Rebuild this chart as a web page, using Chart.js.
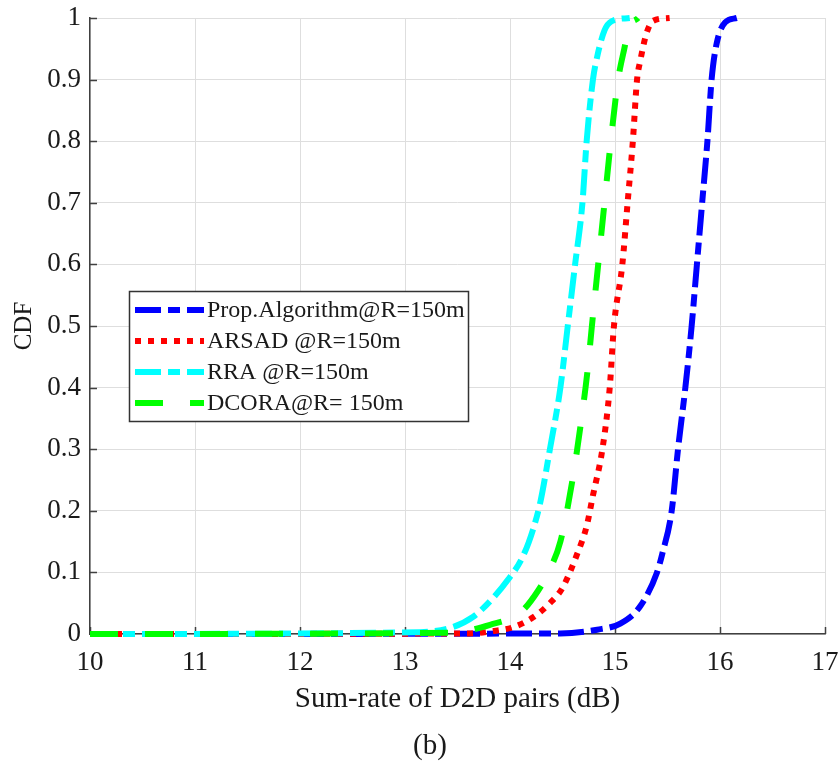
<!DOCTYPE html>
<html>
<head>
<meta charset="utf-8">
<script src="https://cdn.jsdelivr.net/npm/chart.js@4.4.1/dist/chart.umd.min.js"></script>
<style>
html,body{margin:0;padding:0;background:#fff;}
#wrap{width:840px;height:770px;position:relative;}
</style>
</head>
<body>
<div id="wrap"><canvas id="c" width="840" height="770"></canvas></div>
<script>
// ---- data ----
const seriesNames = ['Prop.Algorithm@R=150m', 'ARSAD @R=150m', 'RRA @R=150m', 'DCORA@R= 150m'];

const propX = [10, 14.48, 14.83, 15.05, 15.24, 15.40, 15.45, 15.54, 15.60, 15.67, 15.73, 15.78, 15.83, 15.88, 15.92, 15.97, 16.05, 16.16];
const propY = [0, 0.001, 0.007, 0.017, 0.045, 0.10, 0.13, 0.20, 0.30, 0.40, 0.50, 0.60, 0.70, 0.80, 0.90, 0.96, 0.993, 1.0];

const arsadX = [10, 13.62, 13.85, 14.03, 14.22, 14.38, 14.50, 14.64, 14.73, 14.79, 14.88, 14.95, 14.99, 15.07, 15.12, 15.17, 15.21, 15.24, 15.30, 15.36, 15.52];
const arsadY = [0, 0.001, 0.005, 0.011, 0.027, 0.05, 0.075, 0.13, 0.175, 0.225, 0.30, 0.40, 0.50, 0.60, 0.70, 0.80, 0.90, 0.93, 0.975, 0.995, 1.0];

const rraX = [10, 13.14, 13.45, 13.65, 13.82, 13.98, 14.12, 14.22, 14.29, 14.38, 14.48, 14.55, 14.62, 14.69, 14.73, 14.79, 14.83, 14.90, 14.97, 15.14];
const rraY = [0, 0.003, 0.011, 0.028, 0.055, 0.088, 0.125, 0.17, 0.215, 0.30, 0.40, 0.50, 0.60, 0.70, 0.80, 0.90, 0.937, 0.98, 0.995, 1.0];

const dcoraX = [10, 13.43, 13.81, 14.10, 14.27, 14.38, 14.48, 14.59, 14.67, 14.74, 14.78, 14.84, 14.90, 14.96, 15.03, 15.10, 15.12, 15.22];
const dcoraY = [0, 0.002, 0.015, 0.035, 0.071, 0.105, 0.15, 0.245, 0.336, 0.43, 0.50, 0.60, 0.70, 0.80, 0.90, 0.96, 0.98, 1.0];

const xTicks = [10, 11, 12, 13, 14, 15, 16, 17];
const yTicks = [0, 0.1, 0.2, 0.3, 0.4, 0.5, 0.6, 0.7, 0.8, 0.9, 1];
const xTitle = 'Sum-rate of D2D pairs (dB)';
const yTitle = 'CDF';
const caption = '(b)';

// ---- styles ----
const FONT = '"Liberation Serif", "Times New Roman", serif';
const styles = [
  {color: '#0000ff', dash: [26, 7, 12, 7], order: 3},
  {color: '#ff0000', dash: [6, 7], order: 2},
  {color: '#00ffff', dash: [26, 7, 12, 7], order: 1},
  {color: '#00ff00', dash: [28, 27], order: 0}
];
const seriesX = [propX, arsadX, rraX, dcoraX];
const seriesY = [propY, arsadY, rraY, dcoraY];

const datasets = seriesNames.map((name, i) => ({
  label: name,
  data: seriesX[i].map((x, j) => ({x: x, y: seriesY[i][j]})),
  borderColor: styles[i].color,
  backgroundColor: styles[i].color,
  borderWidth: 6,
  borderDash: styles[i].dash,
  borderCapStyle: 'butt',
  pointRadius: 0,
  fill: false,
  cubicInterpolationMode: 'monotone',
  order: styles[i].order,
  clip: 10
}));

function noPad(s) { s.paddingTop = 0; s.paddingBottom = 0; s.paddingLeft = 0; s.paddingRight = 0; }

const decor = {
  id: 'decor',
  beforeDatasetsDraw(chart) {
    const ctx = chart.ctx, a = chart.chartArea;
    const xs = chart.scales.x, ys = chart.scales.y;
    ctx.save();
    ctx.strokeStyle = '#404040';
    ctx.lineWidth = 1.5;
    ctx.beginPath();
    yTicks.forEach(v => {
      const y = Math.round(ys.getPixelForValue(v)) + 0.5;
      ctx.moveTo(a.left, y); ctx.lineTo(a.left + 7, y);
    });
    xTicks.forEach(v => {
      const x = Math.round(xs.getPixelForValue(v)) + 0.5;
      ctx.moveTo(x, a.bottom); ctx.lineTo(x, a.bottom - 7);
    });
    ctx.stroke();
    ctx.restore();
  },
  afterDraw(chart) {
    const ctx = chart.ctx, a = chart.chartArea;
    ctx.save();
    // titles
    ctx.fillStyle = '#1a1a1a';
    ctx.font = '29px ' + FONT;
    ctx.textAlign = 'center';
    ctx.textBaseline = 'middle';
    ctx.fillText(xTitle, (a.left + a.right) / 2, 699);
    ctx.fillText(caption, 430, 746);
    ctx.save();
    ctx.font = '25px ' + FONT;
    ctx.translate(24, (a.top + a.bottom) / 2);
    ctx.rotate(-Math.PI / 2);
    ctx.fillText(yTitle, 0, 0);
    ctx.restore();
    // legend
    const bx = 129.5, by = 291.5, bw = 339, bh = 130;
    ctx.fillStyle = '#ffffff';
    ctx.fillRect(bx, by, bw, bh);
    ctx.strokeStyle = '#333333';
    ctx.lineWidth = 1.5;
    ctx.strokeRect(bx, by, bw, bh);
    const rows = [310, 341, 372, 403];
    ctx.font = '24px ' + FONT;
    ctx.textAlign = 'left';
    seriesNames.forEach((n, i) => {
      ctx.save();
      ctx.strokeStyle = styles[i].color;
      ctx.lineWidth = 6;
      ctx.lineCap = 'butt';
      ctx.setLineDash(styles[i].dash);
      ctx.beginPath();
      ctx.moveTo(135, rows[i]); ctx.lineTo(204, rows[i]);
      ctx.stroke();
      ctx.restore();
      ctx.fillStyle = '#1a1a1a';
      ctx.fillText(n, 207, rows[i] + 1);
    });
    ctx.restore();
  }
};

new Chart(document.getElementById('c'), {
  type: 'line',
  data: {datasets: datasets},
  options: {
    responsive: false,
    devicePixelRatio: 1,
    animation: false,
    events: [],
    layout: {padding: {left: 0, right: 15, top: 18, bottom: 0}},
    plugins: {legend: {display: false}, tooltip: {enabled: false}, title: {display: false}},
    scales: {
      x: {
        type: 'linear', min: 10, max: 17,
        afterFit(s) { s.height = 136; noPad(s); },
        afterBuildTicks(s) { s.ticks = xTicks.map(v => ({value: v})); },
        grid: {color: '#dedede', lineWidth: 1, drawTicks: false},
        border: {color: '#404040', width: 1.5},
        ticks: {color: '#1a1a1a', font: {family: FONT, size: 27}, padding: 13, maxRotation: 0}
      },
      y: {
        type: 'linear', min: 0, max: 1,
        afterFit(s) { s.width = 90; noPad(s); },
        afterBuildTicks(s) { s.ticks = yTicks.map(v => ({value: v})); },
        grid: {color: '#dedede', lineWidth: 1, drawTicks: false},
        border: {color: '#404040', width: 1.5},
        ticks: {color: '#1a1a1a', font: {family: FONT, size: 27}, padding: 9,
                callback: v => String(Math.round(v * 10) / 10)}
      }
    }
  },
  plugins: [decor]
});
</script>
</body>
</html>
